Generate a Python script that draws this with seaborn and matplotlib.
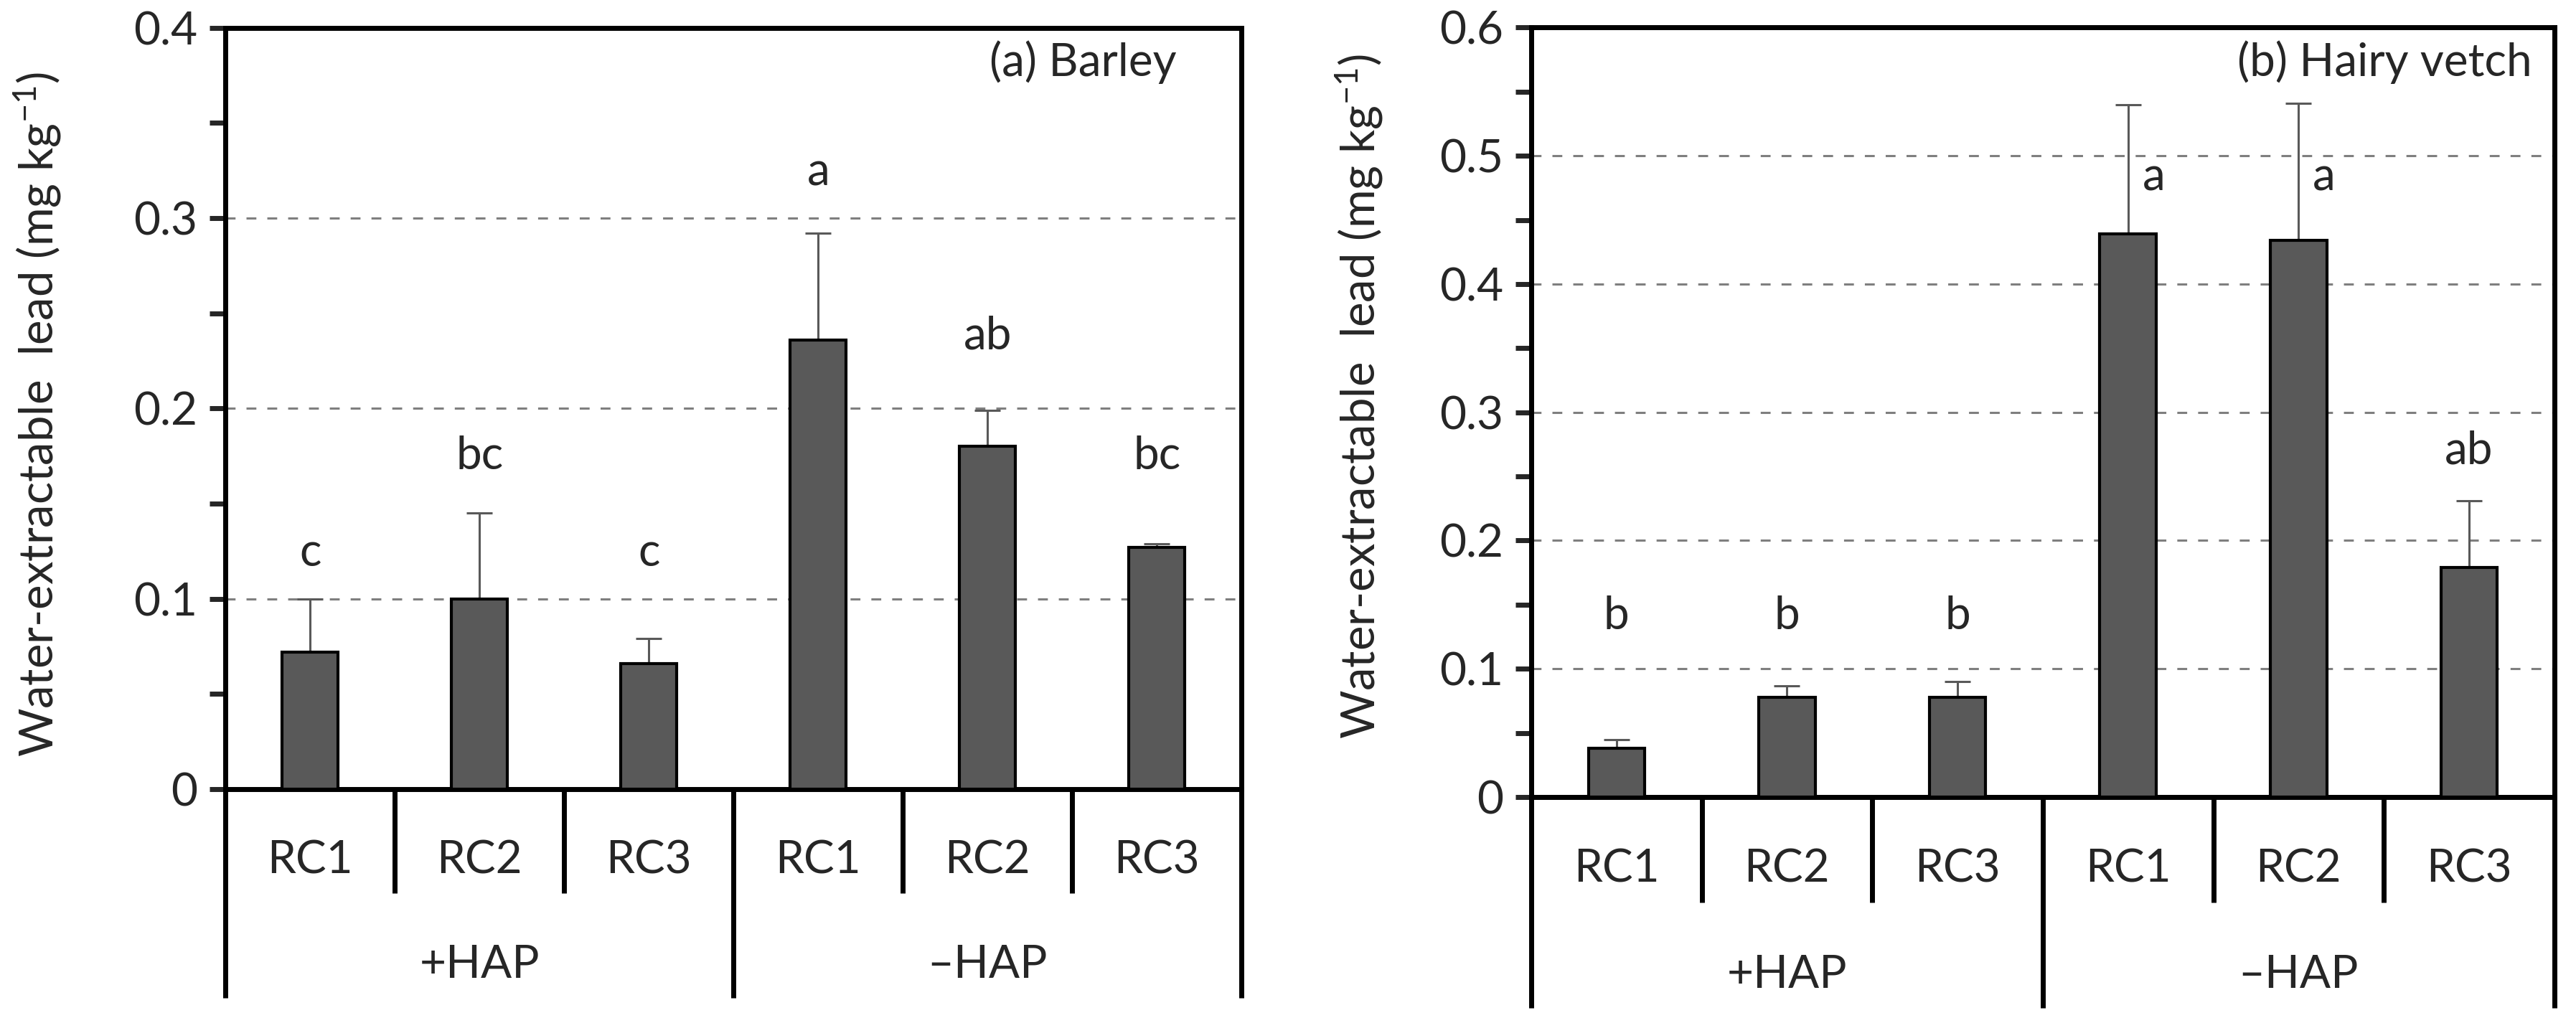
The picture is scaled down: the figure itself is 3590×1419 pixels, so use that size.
import numpy as np
import pandas as pd
import matplotlib
matplotlib.use('Agg')
import matplotlib.pyplot as plt
from matplotlib.ticker import MultipleLocator
import seaborn as sns

# data
groups = ['+HAP', '+HAP', '+HAP', '–HAP', '–HAP', '–HAP']
rcs = ['RC1', 'RC2', 'RC3', 'RC1', 'RC2', 'RC3']

barley_mean = [0.072, 0.100, 0.066, 0.236, 0.180, 0.127]
barley_err = [0.028, 0.045, 0.013, 0.056, 0.019, 0.002]
barley_letters = ['c', 'bc', 'c', 'a', 'ab', 'bc']
barley_letter_y = [0.124, 0.175, 0.124, 0.324, 0.238, 0.175]

vetch_mean = [0.038, 0.078, 0.078, 0.439, 0.434, 0.179]
vetch_err = [0.007, 0.009, 0.012, 0.101, 0.107, 0.052]
vetch_letters = ['b', 'b', 'b', 'a', 'a', 'ab']
vetch_letter_y = [0.141, 0.141, 0.141, 0.483, 0.483, 0.270]

sns.set_style('white')
plt.rcParams['font.family'] = ['Lato', 'DejaVu Sans']
plt.rcParams['mathtext.fontset'] = 'custom'
plt.rcParams['mathtext.rm'] = 'Lato'
plt.rcParams['mathtext.default'] = 'regular'

FS = 46
fig = plt.figure(figsize=(35.9, 14.19), dpi=100)
ax1 = fig.add_axes([0.0875, 0.2248, 0.3945, 0.748])
ax2 = fig.add_axes([0.5944, 0.2170, 0.3972, 0.756])


def panel(ax, mean, err, letters, letter_y, ymax, title, title_x, ylab_x, ylab_y, letter_dx):
    df = pd.DataFrame({'cond': [g + ' ' + r for g, r in zip(groups, rcs)], 'value': mean})
    sns.barplot(data=df, x='cond', y='value', color='#595959', edgecolor='black',
                linewidth=3, width=0.33, saturation=1, ax=ax, zorder=3)
    x = np.arange(len(mean))
    ax.errorbar(x, mean, yerr=[np.zeros(len(err)), err], fmt='none', ecolor='#595959',
                elinewidth=2.2, capsize=13, capthick=2.2, zorder=2)
    for xi, lab, ly, dx in zip(x, letters, letter_y, letter_dx):
        ax.text(xi + dx, ly, lab, ha='center', va='center', fontsize=FS)

    ax.set_xlim(-0.5, 5.5)
    ax.set_ylim(0, ymax)
    ax.yaxis.set_major_locator(MultipleLocator(0.1))
    ax.yaxis.set_minor_locator(MultipleLocator(0.05))
    ticks = np.arange(0, ymax + 1e-9, 0.1)
    ax.set_yticks(ticks, ['0' if t == 0 else f'{t:.1f}' for t in ticks])
    ax.tick_params(axis='y', which='both', direction='out', length=16, width=5,
                   labelsize=FS, pad=12, left=True)
    ax.yaxis.grid(True, which='major', linestyle=(0, (4.5, 5)), color='#7f7f7f', lw=2.2)
    ax.set_axisbelow(True)
    for s in ax.spines.values():
        s.set_linewidth(5)
        s.set_color('black')

    ax.set_xticks(x)
    ax.set_xticklabels([])
    ax.tick_params(axis='x', length=0)
    ax.set_xlabel('')
    ax.set_ylabel('Water-extractable  lead (mg kg$^{-1}$)', fontsize=47)
    ax.yaxis.set_label_coords(ylab_x, ylab_y)

    tr = ax.get_xaxis_transform()
    for xi, r in zip(x, rcs):
        ax.text(xi, -0.094, r, ha='center', va='center', fontsize=FS, transform=tr)
    for xc, g in [(1, '+HAP'), (4, '–HAP')]:
        ax.text(xc, -0.231, g, ha='center', va='center', fontsize=FS, transform=tr)
    for xd in [0.5, 1.5, 3.5, 4.5]:
        ax.plot([xd, xd], [0, -0.137], transform=tr, clip_on=False, color='black', lw=5,
                solid_capstyle='butt')
    for xd in [-0.5, 2.5, 5.5]:
        ax.plot([xd, xd], [0, -0.274], transform=tr, clip_on=False, color='black', lw=5,
                solid_capstyle='butt')

    ax.text(title_x, 0.955, title, ha='right', va='center', fontsize=FS, transform=ax.transAxes)


panel(ax1, barley_mean, barley_err, barley_letters, barley_letter_y, 0.4,
      '(a) Barley', 0.936, -0.160, 0.492, [0, 0, 0, 0, 0, 0])
panel(ax2, vetch_mean, vetch_err, vetch_letters, vetch_letter_y, 0.6,
      '(b) Hairy vetch', 0.978, -0.143, 0.521, [0, 0, 0, 0.15, 0.15, 0])

fig.savefig('out.png', dpi=100)
